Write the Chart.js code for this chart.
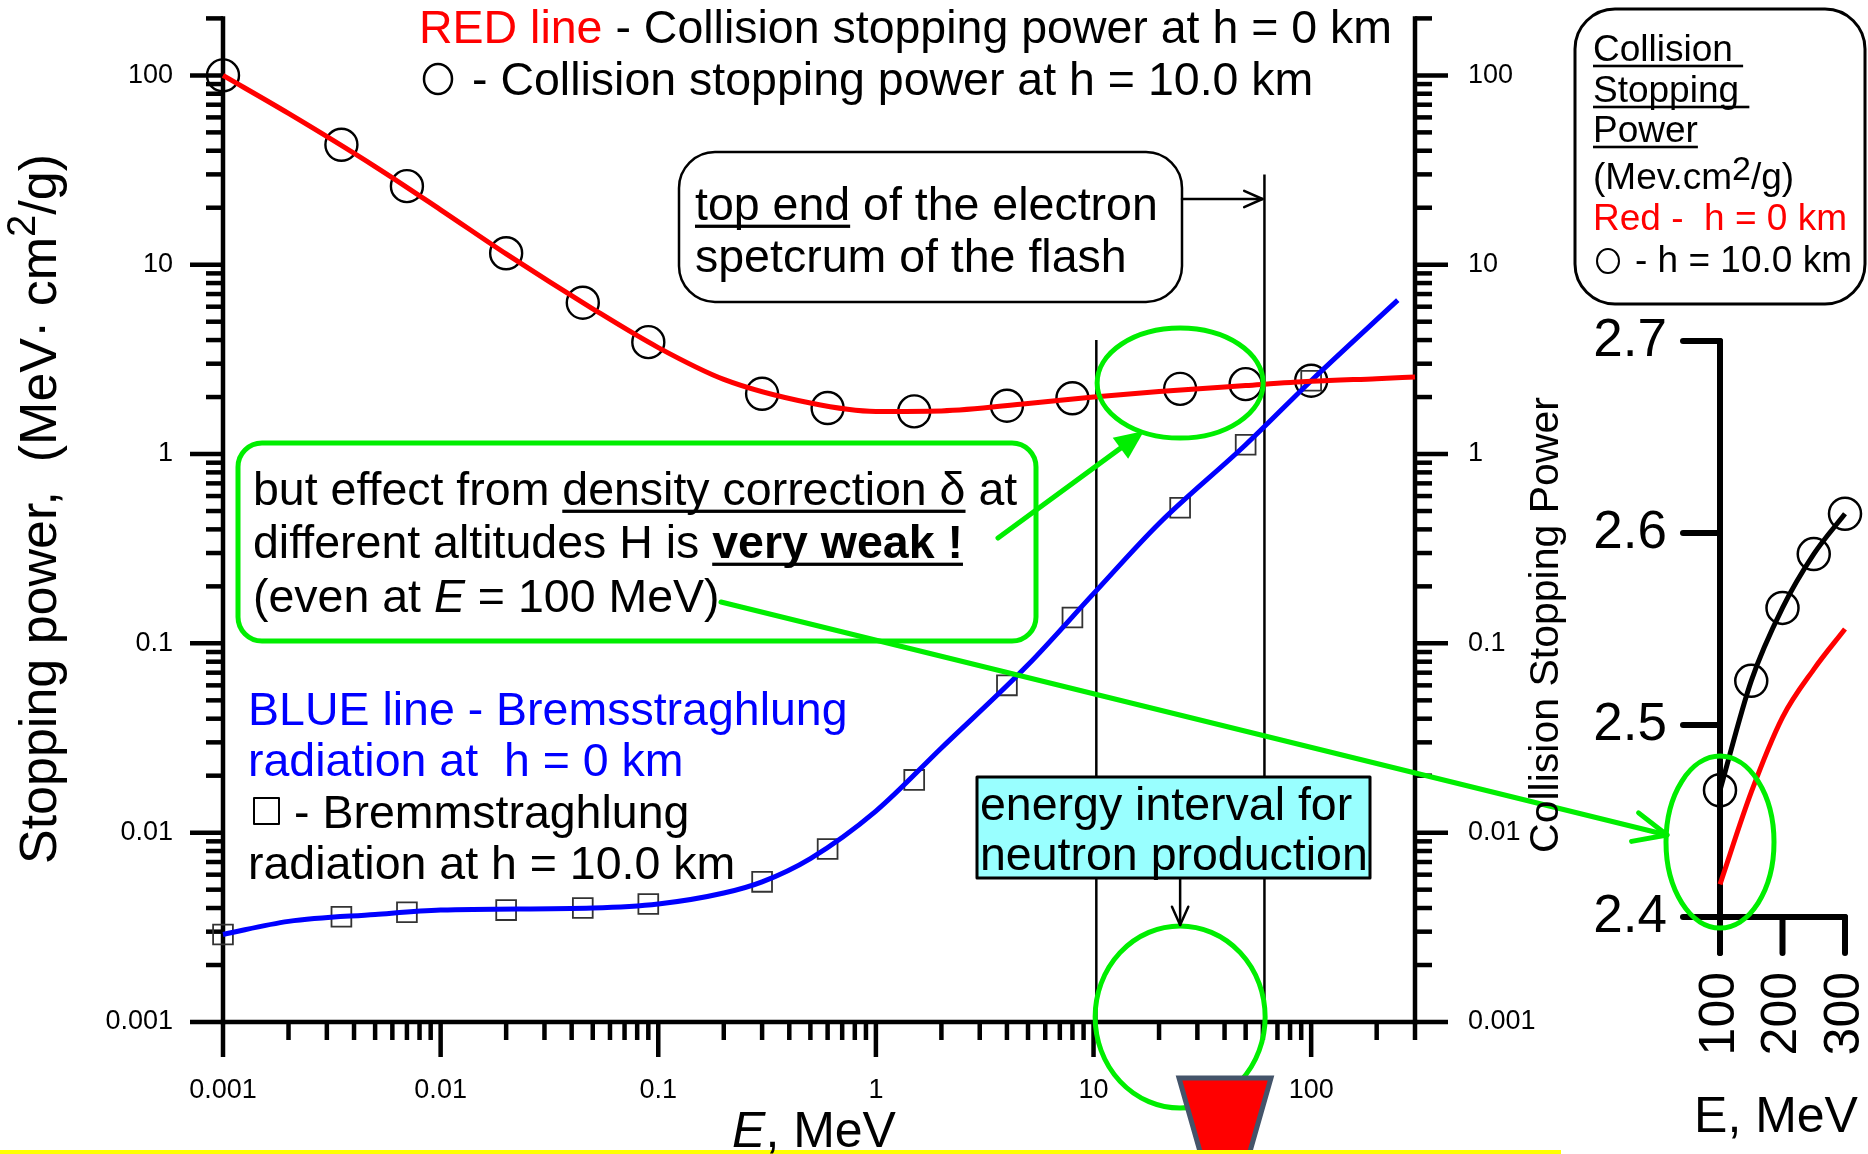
<!DOCTYPE html>
<html>
<head>
<meta charset="utf-8">
<title>Stopping power</title>
<script src="https://cdn.jsdelivr.net/npm/chart.js@4.4.1/dist/chart.umd.min.js"></script>
<style>
  html, body { margin: 0; padding: 0; background: #fff; overflow: hidden; }
  #page { position: relative; width: 1868px; height: 1154px; }
  #page canvas { position: absolute; left: 0; top: 0; }
</style>
</head>
<body>
<div id="page">
  <canvas id="mainChart" width="1868" height="1154"></canvas>
  <canvas id="insetChart" width="1868" height="1154"></canvas>
</div>
<script>
// ---- main panel: E (MeV) vs stopping power (MeV cm2/g) ----
const lineEnergy = [0.001, 0.002, 0.005, 0.01, 0.02, 0.05, 0.1, 0.2, 0.5, 1, 2, 5, 10, 20, 50, 100, 200, 300];
const collisionH0 = [100, 63, 33, 19.5, 11.4, 5.85, 3.65, 2.48, 1.86, 1.68, 1.69, 1.85, 2.0, 2.14, 2.3, 2.42, 2.5, 2.55];
const bremEnergy = [0.001, 0.002, 0.005, 0.01, 0.05, 0.1, 0.2, 0.3, 0.5, 1, 2, 5, 10, 20, 50, 100, 250];
const bremH0 = [0.0029, 0.0034, 0.0037, 0.0039, 0.004, 0.0042, 0.0048, 0.0055, 0.0073, 0.013, 0.028, 0.077, 0.183, 0.43, 1.12, 2.44, 6.5];
const markerEnergy = [0.001, 0.0035, 0.007, 0.02, 0.045, 0.09, 0.3, 0.6, 1.5, 4, 8, 25, 50, 100];
const collisionH10 = [100, 43, 26, 11.5, 6.3, 3.9, 2.08, 1.75, 1.68, 1.8, 1.97, 2.21, 2.34, 2.44];
const bremH10 = [0.0029, 0.0036, 0.0038, 0.0039, 0.004, 0.0042, 0.0055, 0.0082, 0.019, 0.06, 0.137, 0.52, 1.12, 2.44];
const decadeValues = [0.001, 0.01, 0.1, 1, 10, 100];
const decadeLabels = ['0.001', '0.01', '0.1', '1', '10', '100'];
const neutronInterval = [10.3, 61];   // MeV, vertical marker lines
const intervalLineTops = [4, 30];     // where those lines stop (y value)

// ---- inset: 100-300 MeV, linear ----
const insetEnergy = [100, 150, 200, 250, 300];
const insetH0 = [2.417, 2.465, 2.504, 2.529, 2.55];
const insetH10 = [2.466, 2.523, 2.561, 2.589, 2.61];
const insetYTicks = [2.4, 2.5, 2.6, 2.7];
const insetYLabels = ['2.4', '2.5', '2.6', '2.7'];
const insetXTicks = [100, 200, 300];
const insetXLabels = ['100', '200', '300'];

const FONT = "'Liberation Sans', Arial, Helvetica, sans-serif";
const GREEN = '#00ee00';

function pts(xs, ys) {
    return xs.map((v, i) => ({ x: v, y: ys[i] }));
}

function seg(ctx, x1, y1, x2, y2) {
    ctx.beginPath();
    ctx.moveTo(x1, y1);
    ctx.lineTo(x2, y2);
    ctx.stroke();
}

function rrect(ctx, x, y, w, h, r) {
    ctx.beginPath();
    ctx.moveTo(x + r, y);
    ctx.arcTo(x + w, y, x + w, y + h, r);
    ctx.arcTo(x + w, y + h, x, y + h, r);
    ctx.arcTo(x, y + h, x, y, r);
    ctx.arcTo(x, y, x + w, y, r);
    ctx.closePath();
}

function fontOf(p) {
    return (p.style || 'normal') + ' ' + (p.weight || 'normal') + ' ' + p.size + 'px ' + FONT;
}

// one line of mixed-style text
function drawRich(ctx, segs, x, y, base, align) {
    const parts = segs.map(s => Object.assign({}, base, typeof s === 'string' ? { t: s } : s));
    let total = 0;
    parts.forEach(p => { ctx.font = fontOf(p); p.w = ctx.measureText(p.t).width; total += p.w; });
    let cx = align === 'center' ? x - total / 2 : align === 'right' ? x - total : x;
    ctx.textAlign = 'left';
    ctx.textBaseline = 'alphabetic';
    parts.forEach(p => {
        ctx.font = fontOf(p);
        ctx.fillStyle = p.color || '#000';
        ctx.fillText(p.t, cx, y + (p.dy || 0));
        if (p.underline) ctx.fillRect(cx, y + p.size * 0.1, p.w, Math.max(2, p.size * 0.07));
        cx += p.w;
    });
}

function arrow(ctx, x1, y1, x2, y2, color, width, head, filled) {
    const ang = Math.atan2(y2 - y1, x2 - x1);
    const spread = 0.42;
    ctx.strokeStyle = color;
    ctx.fillStyle = color;
    ctx.lineWidth = width;
    ctx.lineCap = 'round';
    ctx.lineJoin = 'round';
    const back = filled ? head * 0.8 : 0;
    seg(ctx, x1, y1, x2 - back * Math.cos(ang), y2 - back * Math.sin(ang));
    ctx.beginPath();
    ctx.moveTo(x2 - head * Math.cos(ang - spread), y2 - head * Math.sin(ang - spread));
    ctx.lineTo(x2, y2);
    ctx.lineTo(x2 - head * Math.cos(ang + spread), y2 - head * Math.sin(ang + spread));
    if (filled) { ctx.closePath(); ctx.fill(); } else { ctx.stroke(); }
}

function ellipse(ctx, cx, cy, rx, ry) {
    ctx.beginPath();
    ctx.ellipse(cx, cy, rx, ry, 0, 0, Math.PI * 2);
    ctx.stroke();
}

function logTicks(min, max) {
    const out = [];
    for (let p = Math.floor(Math.log10(min)); p <= Math.ceil(Math.log10(max)); p++) {
        for (let m = 1; m <= 9; m++) {
            const v = m * Math.pow(10, p);
            if (v >= min * 0.999 && v <= max * 1.001) out.push({ v: v, major: m === 1 });
        }
    }
    return out;
}

// Axes, ticks and the annotation layer of the main panel
const mainDecor = {
    id: 'mainDecor',
    beforeDatasetsDraw(chart) {
        const { ctx, chartArea: a, scales: { x, y } } = chart;
        ctx.save();
        ctx.strokeStyle = '#000';
        ctx.lineWidth = 4.5;
        ctx.lineCap = 'square';
        seg(ctx, a.left, a.top, a.left, a.bottom);
        seg(ctx, a.right, a.top, a.right, a.bottom);
        seg(ctx, a.left, a.bottom, a.right, a.bottom);
        ctx.lineCap = 'butt';
        logTicks(y.min, y.max).forEach(t => {
            const py = y.getPixelForValue(t.v);
            const len = t.major ? 33 : 17;
            seg(ctx, a.left - len, py, a.left, py);
            seg(ctx, a.right, py, a.right + len, py);
        });
        logTicks(x.min, x.max).forEach(t => {
            const px = x.getPixelForValue(t.v);
            seg(ctx, px, a.bottom, px, a.bottom + (t.major ? 35 : 18));
        });

        ctx.fillStyle = '#000';
        ctx.font = '27px ' + FONT;
        decadeValues.forEach((v, i) => {
            const py = y.getPixelForValue(v);
            ctx.textBaseline = 'middle';
            ctx.textAlign = 'right';
            ctx.fillText(decadeLabels[i], a.left - 50, py);
            ctx.textAlign = 'left';
            ctx.fillText(decadeLabels[i], a.right + 53, py);
            ctx.textAlign = 'center';
            ctx.textBaseline = 'alphabetic';
            ctx.fillText(decadeLabels[i], x.getPixelForValue(v), a.bottom + 76);
        });

        // energy interval for neutron production
        ctx.lineWidth = 2.5;
        neutronInterval.forEach((e, i) => {
            const px = x.getPixelForValue(e);
            seg(ctx, px, y.getPixelForValue(intervalLineTops[i]), px, a.bottom);
        });
        ctx.restore();
    },
    afterDatasetsDraw(chart) {
        const { ctx, chartArea: a, scales: { x, y } } = chart;
        const body = { size: 46.5, color: '#000' };
        const blue = { size: 46.5, color: '#0000ff' };
        const midE = x.getPixelForValue(25);
        ctx.save();

        // legend text at the top
        drawRich(ctx, [{ t: 'RED line', color: '#ff0000' }, ' - Collision stopping power at h = 0 km'], 419, 43, body);
        ctx.strokeStyle = '#000';
        ctx.lineWidth = 2.5;
        ellipse(ctx, 438, 79, 14, 15);
        drawRich(ctx, ['- Collision stopping power at h = 10.0 km'], 472, 95, body);

        // "top end" box
        ctx.strokeStyle = '#000';
        ctx.lineWidth = 2.5;
        rrect(ctx, 679, 152, 503, 150, 36);
        ctx.stroke();
        drawRich(ctx, [{ t: 'top end', underline: true }, ' of the electron'], 695, 220, body);
        drawRich(ctx, ['spetcrum of the flash'], 695, 272, body);
        arrow(ctx, 1182, 199, x.getPixelForValue(neutronInterval[1]) - 2, 199, '#000', 2.5, 20, false);

        // green note box
        ctx.strokeStyle = GREEN;
        ctx.lineWidth = 5;
        rrect(ctx, 238, 443, 798, 198, 24);
        ctx.stroke();
        drawRich(ctx, ['but effect from ', { t: 'density correction \u03b4', underline: true }, ' at'], 253, 505, body);
        drawRich(ctx, ['different altitudes H is ', { t: 'very weak !', weight: 'bold', underline: true }], 253, 558, body);
        drawRich(ctx, ['(even at ', { t: 'E', style: 'italic' }, ' = 100 MeV)'], 253, 612, body);

        ctx.strokeStyle = GREEN;
        ctx.lineWidth = 5;
        ellipse(ctx, midE, y.getPixelForValue(2.37), 83, 55);
        ellipse(ctx, midE, a.bottom - 5, 85, 91);
        arrow(ctx, 998, 538, 1144, 431, GREEN, 5, 32, true);
        arrow(ctx, 721, 602, 1667, 835, GREEN, 5, 36, false);

        // bremsstrahlung legend
        drawRich(ctx, ['BLUE line - Bremsstraghlung'], 248, 725, blue);
        drawRich(ctx, ['radiation at  h = 0 km'], 248, 776, blue);
        ctx.strokeStyle = '#000';
        ctx.lineWidth = 2;
        ctx.strokeRect(254, 798, 25, 26);
        drawRich(ctx, ['- Bremmstraghlung'], 294, 828, body);
        drawRich(ctx, ['radiation at h = 10.0 km'], 248, 879, body);

        // cyan label
        ctx.fillStyle = '#99ffff';
        ctx.fillRect(977, 777, 393, 101);
        ctx.strokeStyle = '#000';
        ctx.lineWidth = 3;
        ctx.strokeRect(977, 777, 393, 101);
        drawRich(ctx, ['energy interval for'], 980, 820, body);
        drawRich(ctx, ['neutron production'], 980, 870, body);
        arrow(ctx, midE, 879, midE, 925, '#000', 2.5, 20, false);

        // red funnel under the axis
        ctx.beginPath();
        ctx.moveTo(1179, 1078);
        ctx.lineTo(1271, 1078);
        ctx.lineTo(1247, 1162);
        ctx.lineTo(1203, 1162);
        ctx.closePath();
        ctx.fillStyle = '#ff0000';
        ctx.fill();
        ctx.strokeStyle = '#44546a';
        ctx.lineWidth = 5;
        ctx.lineJoin = 'miter';
        ctx.stroke();

        ctx.fillStyle = '#ffff00';
        ctx.fillRect(0, 1150, 1561, 4);

        // axis titles
        ctx.save();
        ctx.translate(56, 509);
        ctx.rotate(-Math.PI / 2);
        drawRich(ctx, ['Stopping power,  (MeV\u00b7 cm', { t: '2', size: 40, dy: -21 }, '/g)'], 0, 0, { size: 52 }, 'center');
        ctx.restore();
        ctx.save();
        ctx.translate(1558, 625);
        ctx.rotate(-Math.PI / 2);
        drawRich(ctx, ['Collision Stopping Power'], 0, 0, { size: 41 }, 'center');
        ctx.restore();
        drawRich(ctx, [{ t: 'E', style: 'italic' }, ', MeV'], 814, 1147, { size: 50 }, 'center');

        // inset legend box
        const small = { size: 37, color: '#000' };
        ctx.strokeStyle = '#000';
        ctx.lineWidth = 3;
        rrect(ctx, 1575, 9, 290, 295, 40);
        ctx.stroke();
        drawRich(ctx, [{ t: 'Collision ', underline: true }], 1593, 61, small);
        drawRich(ctx, [{ t: 'Stopping ', underline: true }], 1593, 102, small);
        drawRich(ctx, [{ t: 'Power', underline: true }], 1593, 142, small);
        drawRich(ctx, ['(Mev.cm', { t: '2', size: 34, dy: -9 }, '/g)'], 1593, 189, small);
        drawRich(ctx, ['Red -  h = 0 km'], 1593, 230, { size: 37, color: '#ff0000' });
        ctx.strokeStyle = '#000';
        ctx.lineWidth = 2;
        ellipse(ctx, 1608, 261, 11, 12);
        drawRich(ctx, ['- h = 10.0 km'], 1635, 272, small);
        ctx.restore();
    }
};

const insetDecor = {
    id: 'insetDecor',
    beforeDatasetsDraw(chart) {
        const { ctx, chartArea: a, scales: { x, y } } = chart;
        ctx.save();
        ctx.strokeStyle = '#000';
        ctx.lineWidth = 6;
        ctx.lineCap = 'round';
        seg(ctx, a.left, a.top, a.left, a.bottom + 36);
        seg(ctx, a.left, a.bottom, a.right, a.bottom);
        insetYTicks.forEach(v => {
            const py = y.getPixelForValue(v);
            seg(ctx, a.left - 37, py, a.left, py);
        });
        insetXTicks.forEach(v => {
            const px = x.getPixelForValue(v);
            seg(ctx, px, a.bottom, px, a.bottom + 36);
        });
        ctx.fillStyle = '#000';
        ctx.font = '53px ' + FONT;
        ctx.textAlign = 'right';
        ctx.textBaseline = 'middle';
        insetYTicks.forEach((v, i) => ctx.fillText(insetYLabels[i], a.left - 53, y.getPixelForValue(v)));
        ctx.font = '50px ' + FONT;
        insetXTicks.forEach((v, i) => {
            ctx.save();
            ctx.translate(x.getPixelForValue(v), a.bottom + 55);
            ctx.rotate(-Math.PI / 2);
            ctx.fillText(insetXLabels[i], 0, 0);
            ctx.restore();
        });
        drawRich(ctx, ['E, MeV'], 1776, 1132, { size: 50 }, 'center');
        ctx.restore();
    },
    afterDatasetsDraw(chart) {
        const { ctx, chartArea: a, scales: { y } } = chart;
        ctx.save();
        ctx.strokeStyle = GREEN;
        ctx.lineWidth = 5;
        ellipse(ctx, a.left, y.getPixelForValue(2.439), 54, 86);
        ctx.restore();
    }
};

document.addEventListener('DOMContentLoaded', function() {
    new Chart(document.getElementById('mainChart'), {
        type: 'line',
        data: {
            datasets: [
                {
                    label: 'Collision, h = 0 km',
                    data: pts(lineEnergy, collisionH0),
                    borderColor: '#ff0000',
                    borderWidth: 5,
                    pointRadius: 0,
                    cubicInterpolationMode: 'monotone',
                    clip: false
                },
                {
                    label: 'Bremsstrahlung, h = 0 km',
                    data: pts(bremEnergy, bremH0),
                    borderColor: '#0000ff',
                    borderWidth: 5,
                    pointRadius: 0,
                    cubicInterpolationMode: 'monotone',
                    clip: false
                },
                {
                    label: 'Collision, h = 10.0 km',
                    data: pts(markerEnergy, collisionH10),
                    showLine: false,
                    pointStyle: 'circle',
                    pointRadius: 16,
                    pointBorderColor: '#000',
                    pointBorderWidth: 2.4,
                    pointBackgroundColor: 'rgba(0,0,0,0)',
                    clip: false
                },
                {
                    label: 'Bremsstrahlung, h = 10.0 km',
                    data: pts(markerEnergy, bremH10),
                    showLine: false,
                    pointStyle: 'rect',
                    pointRadius: 14,
                    pointBorderColor: '#333',
                    pointBorderWidth: 1.8,
                    pointBackgroundColor: 'rgba(0,0,0,0)',
                    clip: false
                }
            ]
        },
        options: {
            responsive: false,
            maintainAspectRatio: false,
            animation: false,
            events: [],
            layout: { padding: { left: 223, right: 453, top: 12, bottom: 132 } },
            scales: {
                x: { type: 'logarithmic', min: 0.001, max: 300, display: false },
                y: { type: 'logarithmic', min: 0.001, max: 200, display: false }
            },
            plugins: {
                legend: { display: false },
                tooltip: { enabled: false }
            }
        },
        plugins: [mainDecor]
    });

    new Chart(document.getElementById('insetChart'), {
        type: 'line',
        data: {
            datasets: [
                {
                    label: 'h = 10.0 km',
                    data: pts(insetEnergy, insetH10),
                    borderColor: '#000',
                    borderWidth: 5,
                    pointRadius: 16,
                    pointBorderColor: '#000',
                    pointBorderWidth: 2.5,
                    pointBackgroundColor: 'rgba(0,0,0,0)',
                    cubicInterpolationMode: 'monotone',
                    clip: false
                },
                {
                    label: 'h = 0 km',
                    data: pts(insetEnergy, insetH0),
                    borderColor: '#ff0000',
                    borderWidth: 5,
                    pointRadius: 0,
                    cubicInterpolationMode: 'monotone',
                    clip: false
                }
            ]
        },
        options: {
            responsive: false,
            maintainAspectRatio: false,
            animation: false,
            events: [],
            layout: { padding: { left: 1720, right: 23, top: 341, bottom: 237 } },
            scales: {
                x: { type: 'linear', min: 100, max: 300, display: false },
                y: { type: 'linear', min: 2.4, max: 2.7, display: false }
            },
            plugins: {
                legend: { display: false },
                tooltip: { enabled: false }
            }
        },
        plugins: [insetDecor]
    });
});
</script>
</body>
</html>
